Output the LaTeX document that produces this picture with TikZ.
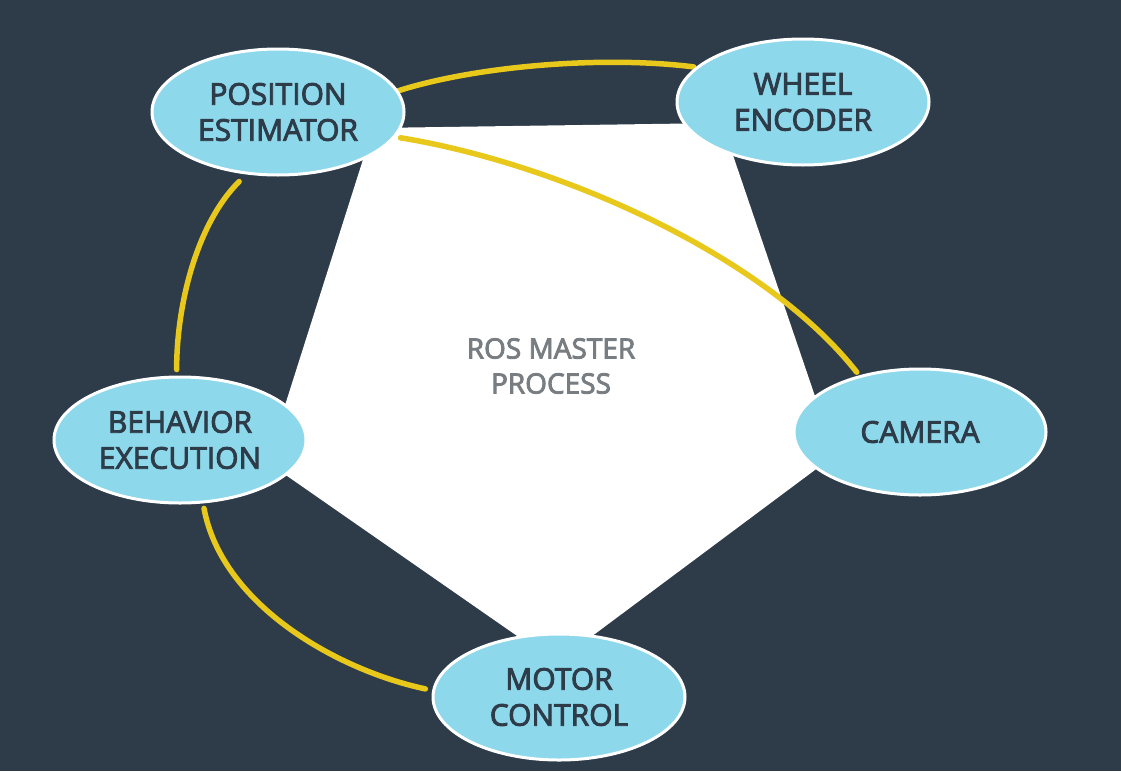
\documentclass[tikz,border=0pt]{standalone}
\usepackage{fontspec}
\setmainfont{Open Sans}
\newfontfamily\semi{Open Sans}[UprightFeatures={FakeBold=3}]
\usepackage{tikz}
\usetikzlibrary{shapes}
\usetikzlibrary{backgrounds}
\usepackage{xcolor}
\definecolor{slate}{HTML}{2E3B49}
\definecolor{sky}{HTML}{8ED8EB}
\definecolor{gold}{HTML}{E9C81C}
\definecolor{ash}{HTML}{787D82}

\begin{document}
\begin{tikzpicture}[x=1pt,y=-1pt,
	proc/.style={ellipse,draw=white,line width=3pt,fill=sky,text=slate,
		minimum width=252pt,minimum height=126pt,inner sep=0pt,align=center,
		font=\fontsize{30}{36}\semi},
	topic/.style={draw=gold,line width=5.5pt,line cap=round}]
\useasboundingbox (0,0) rectangle (1121,771);
\node[proc] (pos) at (278,112) {POSITION\\ESTIMATOR};
\node[proc] (wheel) at (803,102) {WHEEL\\ENCODER};
\node[proc] (cam) at (920,432) {CAMERA};
\node[proc] (motor) at (559,697) {MOTOR\\CONTROL};
\node[proc] (behav) at (180,440) {BEHAVIOR\\EXECUTION};
\foreach \n/\x/\y in {1/373/128,2/722/123,3/835/455,4/556/663,5/267/462} {
	\coordinate (v\n) at (\x,\y);
}
\begin{scope}[on background layer]
	\fill[slate] (0,0) rectangle (1121,771);
	\fill[white] (v1) -- (v2) -- (v3) -- (v4) -- (v5) -- cycle;
	\node (master) at (551,366) [text=ash,align=center,font=\fontsize{28}{35}\semi] {ROS MASTER\\PROCESS};
	\draw[topic,shorten >=2pt] (pos.10) .. controls +(75,-24) and +(-96,-12) .. (wheel.162);
	\draw[topic,shorten <=5pt,shorten >=4pt] (pos.-12) .. controls +(160,26) and +(-96,-122) .. (cam.137);
	\draw[topic,shorten <=10pt,shorten >=6pt] (pos.243) .. controls +(-50,50) and +(0,-70) .. (behav.93);
	\draw[topic,shorten <=5pt,shorten >=7pt] (behav.290) .. controls +(19,102) and +(-94,-20) .. (motor.177);
\end{scope}
\end{tikzpicture}
\end{document}
